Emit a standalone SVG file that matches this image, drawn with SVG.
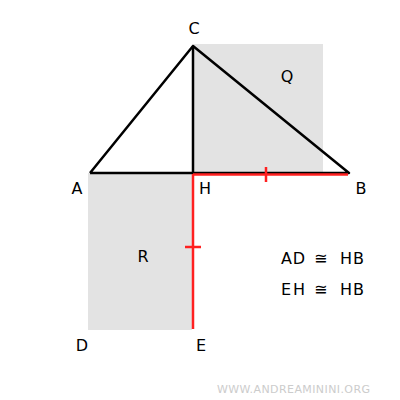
<svg xmlns="http://www.w3.org/2000/svg" width="400" height="400" viewBox="0 0 400 400">
<style>
text{font-family:"DejaVu Sans","Verdana",sans-serif;font-size:16px;fill:#000}
.lbl{text-anchor:middle}
.blk{stroke:#000;stroke-width:2.5;fill:none;stroke-linejoin:round}
.red{stroke:#ff2020;stroke-width:2.5;fill:none}
.sq{fill:#e3e3e3}
</style>
<rect width="400" height="400" fill="#fff"/>
<g id="squareQ"><rect class="sq" x="192" y="44" width="131" height="129"/></g>
<g id="squareR"><rect class="sq" x="88" y="173" width="104" height="157"/></g>
<g id="triangle">
<polyline class="blk" points="90,173 193,46 349,173 90,173"/>
<line class="blk" x1="193" y1="46" x2="193" y2="173"/>
</g>
<g id="connectors">
<line class="red" x1="193" y1="174.5" x2="348" y2="174.5"/>
<line class="red" x1="266" y1="167" x2="266" y2="182"/>
<line class="red" x1="193" y1="174" x2="193" y2="329"/>
<line class="red" x1="185" y1="247" x2="201" y2="247"/>
</g>
<g id="labels">
<text class="lbl" x="194" y="34">C</text>
<text class="lbl" x="77" y="194">A</text>
<text class="lbl" x="205" y="194">H</text>
<text class="lbl" x="361" y="194">B</text>
<text class="lbl" x="287" y="82">Q</text>
<text class="lbl" x="143" y="262">R</text>
<text class="lbl" x="82" y="351">D</text>
<text class="lbl" x="201" y="351">E</text>
<text x="281" y="264" textLength="24">AD</text>
<text x="314" y="264">≅</text>
<text x="340" y="264" textLength="24">HB</text>
<text x="281" y="295" textLength="24">EH</text>
<text x="314" y="295">≅</text>
<text x="340" y="295" textLength="24">HB</text>
<text x="217" y="393" textLength="153" style="font-size:11px;fill:#cccccc">WWW.ANDREAMININI.ORG</text>
</g>
</svg>
